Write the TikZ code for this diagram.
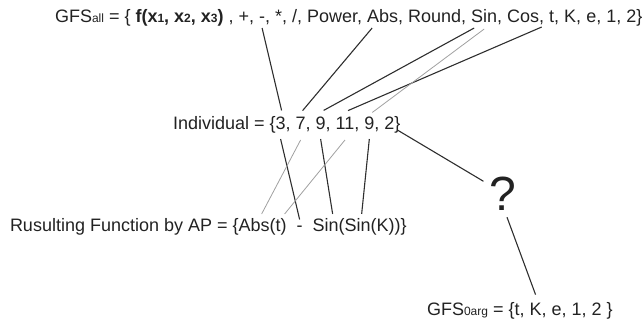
\documentclass[tikz,border=0pt]{standalone}
\usepackage{fontspec}
\setmainfont{Liberation Sans}
\newcommand\bigtxt{\fontsize{18}{21}\selectfont}
\newcommand\subtxt[1]{{\fontsize{12}{14}\selectfont #1}}
\newcommand\spc{\kern.278em}
\definecolor{ink}{HTML}{222222}
\definecolor{wire}{HTML}{2E2E2E}
\definecolor{faint}{HTML}{A0A0A0}
\tikzset{
  tok/.style={inner sep=0pt, outer sep=0pt, anchor=base west, font=\bigtxt, text=ink},
  after/.style={tok, at={(#1.base east)}},
  link/.style={draw=wire, line width=1.1pt},
  ghost/.style={draw=faint, line width=0.8pt},
}
\begin{document}
\begin{tikzpicture}[x=1pt, y=-1pt]
\useasboundingbox (0,0) rectangle (644,323);

% full function set
\node[tok] (t0) at (55,23) {GFS\subtxt{all} = \{ \textbf{f(x\subtxt{1}, x\subtxt{2}, x\subtxt{3})} , +,\spc};
\node[after=t0] (tdash) {-};
\node[after=tdash] (t1) {,\spc*, /, Power,\spc};
\node[after=t1] (tabs) {Abs};
\node[after=tabs] (t2) {, Round,\spc};
\node[after=t2] (tsin) {Sin};
\node[after=tsin] (t3) {, Cos};
\node[after=t3] (tcom) {,};
\node[after=tcom] (t4) {\spc t, K, e, 1, 2\}};

% the individual (gene values)
\node[tok] (i0) at (173,130) {Individual = \{};
\node[after=i0] (i3) {3};
\node[after=i3] (s1) {,\spc};
\node[after=s1] (i7) {7};
\node[after=i7] (s2) {,\spc};
\node[after=s2] (i9a) {9};
\node[after=i9a] (s3) {,\spc};
\node[after=s3] (i11) {11};
\node[after=i11] (s4) {,\spc};
\node[after=s4] (i9b) {9};
\node[after=i9b] (s5) {,\spc};
\node[after=s5] (i2) {2};
\node[after=i2] (ibr) {\}};

% decoded expression
\node[tok] (r0) at (10,231) {Rusulting Function by AP = \{};
\node[after=r0] (rabs) {Abs(t)};
\node[after=rabs] (rg1) {\spc\spc};
\node[after=rg1] (rdash) {-};
\node[after=rdash] (rg2) {\spc\spc};
\node[after=rg2] (rsin1) {Sin(};
\node[after=rsin1] (rsin2) {Sin(K))\}};

% unresolved last gene
\node[inner sep=0pt, anchor=base, font=\fontsize{48}{50}\selectfont, text=ink] (q) at (503,210) {?};

% terminal set
\node[tok] (g0) at (427,315) {GFS\subtxt{0arg} = \{t,\spc};
\node[after=g0] (gK) {K};
\node[after=gK] (g1) {, e, 1, 2 \}};

% genes -> function set
\draw[link] ([yshift=-5pt]tdash.base) -- ([shift={(1pt,7pt)}]i3.north);
\draw[link] ([shift={(5pt,-5pt)}]tabs.base west) -- ([shift={(2pt,7pt)}]i7.north);
\draw[link] ([shift={(3pt,-5pt)}]tsin.base west) -- ([shift={(3pt,7pt)}]i9a.north);
\draw[link] ([yshift=-4pt]tcom.base) -- ([shift={(3pt,7pt)}]i11.north);
\draw[ghost] ([shift={(13pt,-6pt)}]tsin.base west) -- ([shift={(3pt,5pt)}]i9b.north);

% genes -> decoded expression
\draw[link] ([yshift=-9pt]i3.base) -- ([yshift=6pt]rdash.north);
\draw[ghost] ([yshift=-10pt]i7.base) -- ([shift={(23pt,4pt)}]rabs.north west);
\draw[link] ([yshift=-9pt]i9a.base) -- ([shift={(20pt,4pt)}]rsin1.north west);
\draw[ghost] ([yshift=-10pt]i11.base) -- ([shift={(-2pt,4pt)}]rabs.north east);
\draw[link] ([yshift=-9pt]i9b.base) -- ([shift={(17pt,4pt)}]rsin2.north west);

% last gene -> ? -> terminal set
\draw[link] (ibr.base) -- ([shift={(-6pt,-5pt)}]q.north west);
\draw[link] ([shift={(4pt,-7pt)}]q.south) -- ([yshift=8pt]gK.north);
\end{tikzpicture}
\end{document}
